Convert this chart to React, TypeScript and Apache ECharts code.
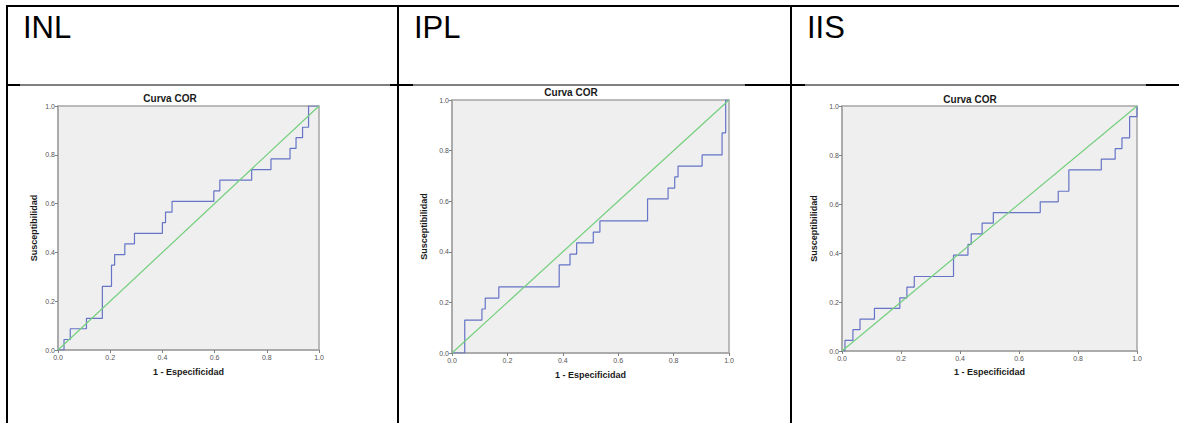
import React, { useEffect, useRef } from "react";
import * as echarts from "echarts";

const FONT = '"Liberation Sans", Arial, Helvetica, sans-serif';

const headers = ["INL", "IPL", "IIS"];
const chartTitle = "Curva COR";
const xAxisName = "1 - Especificidad";
const yAxisName = "Susceptibilidad";

// ROC step vertices (1 - specificity, sensitivity)
const inlFpr = [0, 0.023, 0.047, 0.109, 0.17, 0.205, 0.217, 0.256, 0.293, 0.4, 0.412, 0.437, 0.597, 0.62, 0.742, 0.816, 0.889, 0.912, 0.937, 0.96, 1.0];
const inlTpr = [0, 0.043, 0.087, 0.13, 0.261, 0.348, 0.391, 0.435, 0.478, 0.522, 0.565, 0.609, 0.652, 0.696, 0.739, 0.783, 0.826, 0.87, 0.913, 1.0, 1.0];

const iplFpr = [0, 0.046, 0.108, 0.12, 0.169, 0.387, 0.426, 0.45, 0.51, 0.534, 0.706, 0.78, 0.804, 0.816, 0.903, 0.975, 0.988, 1.0];
const iplTpr = [0, 0.13, 0.174, 0.217, 0.261, 0.348, 0.391, 0.435, 0.478, 0.522, 0.609, 0.652, 0.696, 0.739, 0.783, 0.87, 1.0, 1.0];

const iisFpr = [0, 0.01, 0.037, 0.061, 0.11, 0.196, 0.22, 0.245, 0.378, 0.427, 0.438, 0.475, 0.513, 0.672, 0.733, 0.769, 0.879, 0.926, 0.949, 0.975, 1.0];
const iisTpr = [0, 0.043, 0.087, 0.13, 0.174, 0.217, 0.261, 0.304, 0.391, 0.435, 0.478, 0.522, 0.565, 0.609, 0.652, 0.739, 0.783, 0.826, 0.87, 0.957, 1.0];

const refX = [0, 1];
const refY = [0, 1];

const curves = [
  { fpr: inlFpr, tpr: inlTpr },
  { fpr: iplFpr, tpr: iplTpr },
  { fpr: iisFpr, tpr: iisTpr },
];

// layout (pixels)
const grids = [
  { left: 58, top: 106, width: 261, height: 244 },
  { left: 452, top: 100, width: 277, height: 253 },
  { left: 842, top: 106, width: 295, height: 245 },
];
const titlePos = [
  [170, 98],
  [571, 92],
  [970, 99],
];
const headerPos = [
  [23, 27],
  [414, 27],
  [807, 27],
];
const xNameGap = [17, 17.5, 16.5];
const yNameGap = [20, 23.5, 23.5];

const BLUE = "#6574c6";
const GREEN = "#72cf7c";
const FRAME = "#a6a6a6";

export default function App() {
  const ref = useRef<HTMLDivElement>(null);

  useEffect(() => {
    if (!ref.current) return;
    const chart = echarts.init(ref.current, null, { renderer: "svg" });

    const xAxis = grids.map((_, i) => ({
      gridIndex: i,
      type: "value",
      min: 0,
      max: 1,
      interval: 0.2,
      name: xAxisName,
      nameLocation: "middle",
      nameGap: xNameGap[i],
      nameTextStyle: { fontFamily: FONT, fontWeight: "bold", fontSize: 9, color: "#1a1a1a" },
      axisLine: { show: true, onZero: false, lineStyle: { color: FRAME, width: 1.5 } },
      axisTick: { show: true, length: 3, lineStyle: { color: "#808080", width: 1 } },
      axisLabel: {
        fontFamily: FONT,
        fontSize: 7,
        color: "#555",
        margin: 4,
        formatter: (v: number) => v.toFixed(1),
      },
      splitLine: { show: false },
    }));

    const yAxis = grids.map((_, i) => ({
      gridIndex: i,
      type: "value",
      min: 0,
      max: 1,
      interval: 0.2,
      name: yAxisName,
      nameLocation: "middle",
      nameGap: yNameGap[i],
      nameTextStyle: { fontFamily: FONT, fontWeight: "bold", fontSize: 9, color: "#1a1a1a" },
      axisLine: { show: true, onZero: false, lineStyle: { color: FRAME, width: 1.5 } },
      axisTick: { show: true, length: 3, lineStyle: { color: "#808080", width: 1 } },
      axisLabel: {
        fontFamily: FONT,
        fontSize: 7,
        color: "#555",
        margin: 3,
        formatter: (v: number) => v.toFixed(1),
      },
      splitLine: { show: false },
    }));

    const series: any[] = [];
    curves.forEach((c, i) => {
      series.push({
        type: "line",
        xAxisIndex: i,
        yAxisIndex: i,
        step: "end",
        showSymbol: false,
        symbol: "none",
        data: c.fpr.map((x, k) => [x, c.tpr[k]]),
        lineStyle: { color: BLUE, width: 1.2 },
        z: 3,
      });
      series.push({
        type: "line",
        xAxisIndex: i,
        yAxisIndex: i,
        showSymbol: false,
        symbol: "none",
        data: refX.map((x, k) => [x, refY[k]]),
        lineStyle: { color: GREEN, width: 1.2 },
        z: 4,
      });
    });

    const lines: any[] = [];
    const addLine = (x1: number, y1: number, x2: number, y2: number, w: number) =>
      lines.push({
        type: "line",
        shape: { x1, y1, x2, y2 },
        style: { stroke: "#000", lineWidth: w },
        silent: true,
      });
    addLine(6, 6, 1179, 6, 2);
    addLine(7, 5, 7, 423, 2);
    addLine(398, 5, 398, 423, 2);
    addLine(791, 5, 791, 423, 2);
    addLine(7, 85, 1179, 85, 1);
    addLine(7, 85, 20, 85, 2);
    addLine(390, 85, 413, 85, 2);
    addLine(745, 85, 805, 85, 2);
    addLine(1146, 85, 1179, 85, 2);

    const texts: any[] = [];
    headers.forEach((h, i) => {
      texts.push({
        type: "text",
        x: headerPos[i][0],
        y: headerPos[i][1],
        style: {
          text: h,
          font: `31px ${FONT}`,
          fill: "#000",
          textAlign: "left",
          textVerticalAlign: "middle",
          align: "left",
          verticalAlign: "middle",
        },
      });
      texts.push({
        type: "text",
        x: titlePos[i][0],
        y: titlePos[i][1],
        style: {
          text: chartTitle,
          font: `bold 10px ${FONT}`,
          fill: "#1a1a1a",
          textAlign: "center",
          textVerticalAlign: "middle",
          align: "center",
          verticalAlign: "middle",
        },
      });
    });

    chart.setOption({
      animation: false,
      backgroundColor: "#ffffff",
      grid: grids.map((g) => ({
        ...g,
        show: true,
        backgroundColor: "#efefef",
        borderColor: FRAME,
        borderWidth: 1.5,
        containLabel: false,
      })),
      xAxis,
      yAxis,
      series,
      graphic: [...lines, ...texts],
    });

    return () => chart.dispose();
  }, []);

  return (
    <div
      ref={ref}
      style={{ position: "fixed", left: 0, top: 0, width: 1179, height: 423 }}
    />
  );
}
